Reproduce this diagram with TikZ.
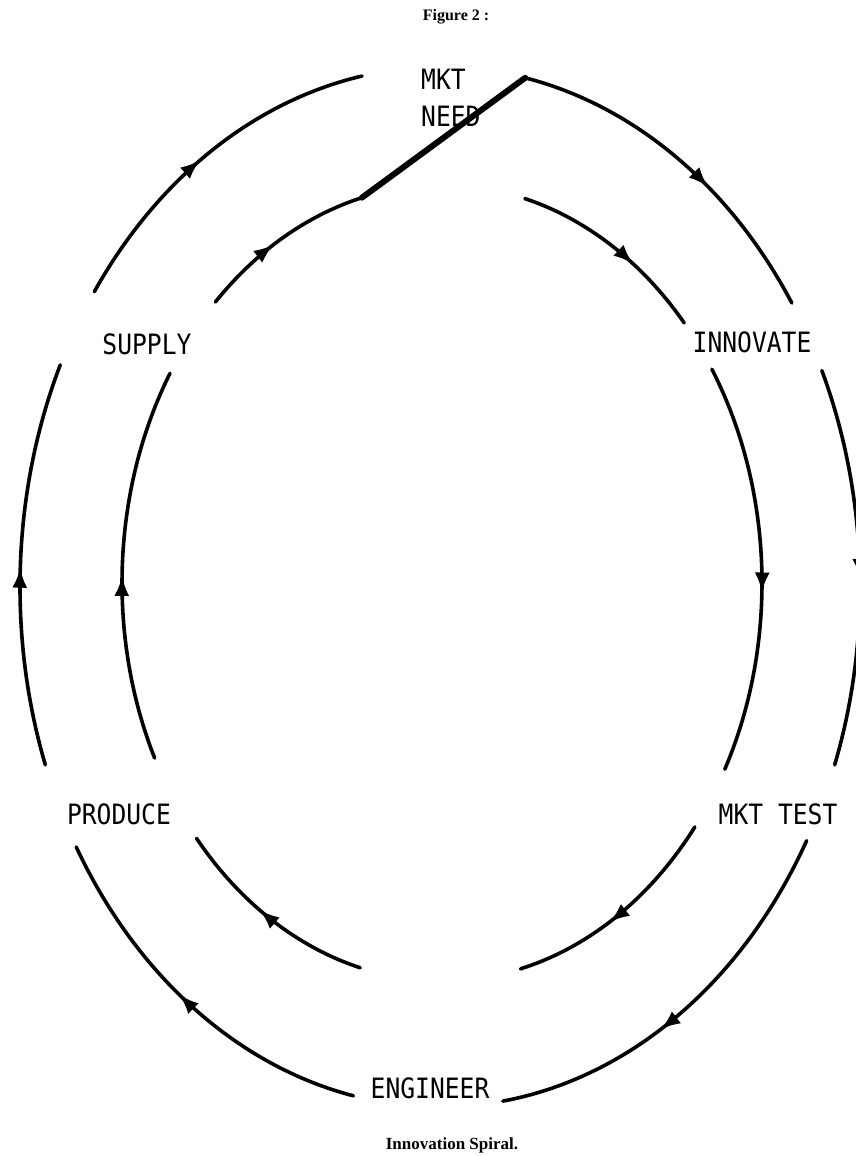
\documentclass[tikz,border=0pt]{standalone}
\usepackage{fontspec}
\setmainfont{Liberation Serif}
\newfontfamily\labfont[FakeStretch=0.88]{DejaVu Sans Mono}
\usetikzlibrary{arrows.meta,decorations.markings}
\tikzset{
  spiral/.style={line width=3.6pt, line cap=round},
  link/.style={line width=6pt, line cap=round},
  lab/.style={font=\labfont\fontsize{28}{37}\selectfont, inner sep=0pt},
  arrowat/.style={postaction={decorate}, decoration={markings,
      mark=at position #1 with {\arrow{Latex[length=20pt,width=15pt]}}}},
}
\begin{document}
\begin{tikzpicture}[x=1pt,y=-1pt]
\fill[white] (0,0) rectangle (855,1156);
\useasboundingbox (0,0) rectangle (855,1156);
\coordinate (O) at (440,587);
\coordinate (I) at (442,583);
% outer arc start points
\path (O) ++(281.7:420 and 520) coordinate (o1s);
\path (O) ++(335.4:420 and 520) coordinate (o2s);
\path (O) ++(29.2:420 and 520) coordinate (o3s);
\path (O) ++(101.9:420 and 520) coordinate (o4s);
\path (O) ++(160:420 and 520) coordinate (o5s);
\path (O) ++(214.6:420 and 520) coordinate (o6s);
% inner arc start points
\path (I) ++(285:320 and 398) coordinate (i1s);
\path (I) ++(327.5:320 and 398) coordinate (i2s);
\path (I) ++(37.8:320 and 398) coordinate (i3s);
\path (I) ++(104.8:320 and 398) coordinate (i4s);
\path (I) ++(153.9:320 and 398) coordinate (i5s);
\path (I) ++(224.9:320 and 398) coordinate (i6s);
\path (I) ++(255.5:320 and 398) coordinate (i6e);
% labels
\node (title) at (456,17) {\bfseries\fontsize{16}{19}\selectfont Figure 2 :};
\node[lab, align=left, anchor=north west] (mktneed) at (421,69) {MKT\\NEED};
\node[lab] (supply) at (147,344) {SUPPLY};
\node[lab] (innovate) at (752,342) {INNOVATE};
\node[lab] (produce) at (119,814) {PRODUCE};
\node[lab] (mkttest) at (778,814) {MKT TEST};
\node[lab] (engineer) at (430,1088) {ENGINEER};
\node (caption) at (452,1145) {\bfseries\fontsize{17}{20}\selectfont Innovation Spiral.};
% outer arcs
\draw[spiral, arrowat=0.6] (o1s) arc[start angle=281.7, end angle=326.9, x radius=420, y radius=520];
\draw[spiral, arrowat=0.53] (o2s) arc[start angle=335.4, end angle=380, x radius=420, y radius=520];
\draw[spiral, arrowat=0.58] (o3s) arc[start angle=29.2, end angle=81.4, x radius=420, y radius=520];
\draw[spiral, arrowat=0.53] (o4s) arc[start angle=101.9, end angle=150, x radius=420, y radius=520];
\draw[spiral, arrowat=0.49] (o5s) arc[start angle=160, end angle=205.3, x radius=420, y radius=520];
\draw[spiral, arrowat=0.48] (o6s) arc[start angle=214.6, end angle=259.3, x radius=420, y radius=520];
% inner arcs
\draw[spiral, arrowat=0.62] (i1s) arc[start angle=285, end angle=319.2, x radius=320, y radius=398];
\draw[spiral, arrowat=0.56] (i2s) arc[start angle=327.5, end angle=387.9, x radius=320, y radius=398];
\draw[spiral, arrowat=0.56] (i3s) arc[start angle=37.8, end angle=75.8, x radius=320, y radius=398];
\draw[spiral, arrowat=0.55] (i4s) arc[start angle=104.8, end angle=140.1, x radius=320, y radius=398];
\draw[spiral, arrowat=0.47] (i5s) arc[start angle=153.9, end angle=211.8, x radius=320, y radius=398];
\draw[spiral, arrowat=0.45] (i6s) arc[start angle=224.9, end angle=255.5, x radius=320, y radius=398];
% link from inner spiral to outer spiral at MKT NEED
\draw[link] (i6e) -- (o1s);
\end{tikzpicture}
\end{document}
